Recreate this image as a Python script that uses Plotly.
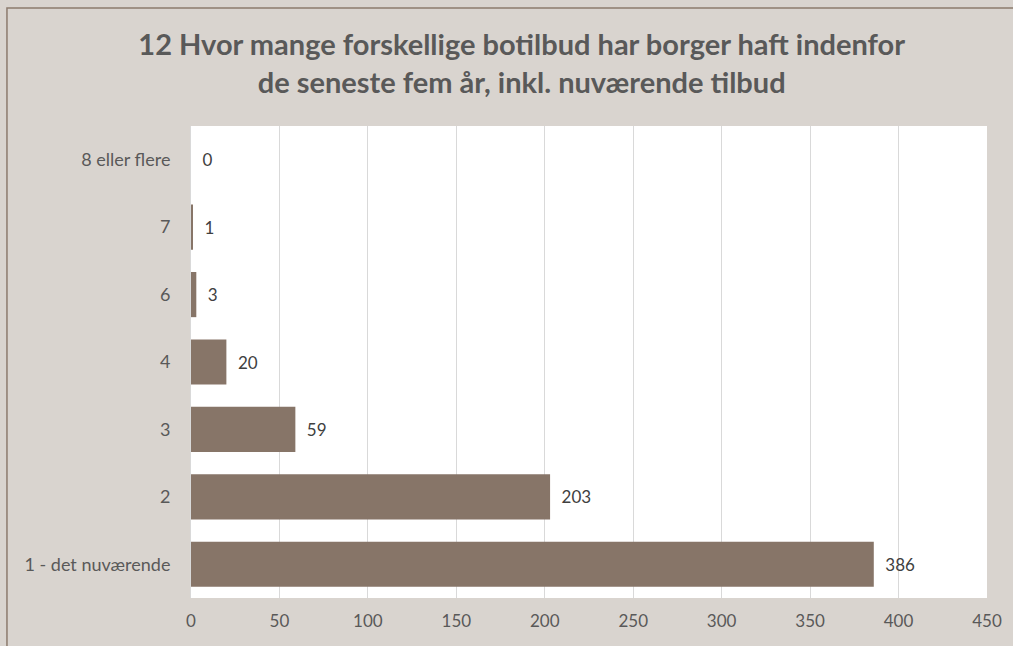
import plotly.graph_objects as go

# data (bottom to top as drawn)
categories = ["1 - det nuværende", "2", "3", "4", "6", "7", "8 eller flere"]
counts = [386, 203, 59, 20, 3, 1, 0]
x_ticks = [0, 50, 100, 150, 200, 250, 300, 350, 400, 450]

bar_color = "#877568"
bg_color = "#d9d4cf"
text_color = "#595959"
font_family = "Lato, 'Open Sans', sans-serif"

fig = go.Figure()

fig.add_trace(
    go.Bar(
        y=categories,
        x=counts,
        orientation="h",
        marker=dict(color=bar_color, line=dict(width=0)),
        text=["\u2002" + str(v) for v in counts],
        textposition="outside",
        textfont=dict(size=17, color="#404040", family=font_family),
        cliponaxis=False,
        hoverinfo="x+y",
    )
)

fig.update_layout(
    width=1013,
    height=646,
    margin=dict(l=191, r=26, t=126, b=48),
    paper_bgcolor=bg_color,
    plot_bgcolor="white",
    bargap=0.33,
    showlegend=False,
    font=dict(family=font_family, color=text_color, size=17),
    title=dict(
        text="12 Hvor mange forskellige botilbud har borger haft indenfor<br>de seneste fem år, inkl. nuværende tilbud",
        x=0.515,
        xanchor="center",
        yref="container",
        y=1 - 55 / 646,
        yanchor="top",
        font=dict(size=29, color=text_color, family=font_family, weight="bold"),
    ),
    shapes=[
        # outer chart border (left and top edges visible)
        dict(
            type="rect",
            xref="paper",
            yref="paper",
            x0=-0.2312,
            x1=1.6,
            y0=-0.6,
            y1=1.25,
            line=dict(color="#8c7b6e", width=1.5),
            fillcolor="rgba(0,0,0,0)",
            layer="above",
        )
    ],
)

fig.update_xaxes(
    range=[0, 450],
    tickvals=x_ticks,
    showgrid=True,
    gridcolor="#d9d9d9",
    gridwidth=1,
    zeroline=False,
    showline=False,
    ticks="",
    ticklabelstandoff=11,
    tickfont=dict(size=17, color=text_color),
    fixedrange=True,
)

fig.update_yaxes(
    categoryorder="array",
    categoryarray=categories,
    showgrid=False,
    zeroline=False,
    showline=True,
    linecolor="#d9d9d9",
    linewidth=1,
    ticks="",
    ticklabelstandoff=16,
    tickfont=dict(size=18, color=text_color),
    fixedrange=True,
)

# remove the default page margin so the figure sits at the window origin
fig.write_html(
    "out.html",
    config={"displayModeBar": False},
    post_script="document.body.style.margin='0';",
)
